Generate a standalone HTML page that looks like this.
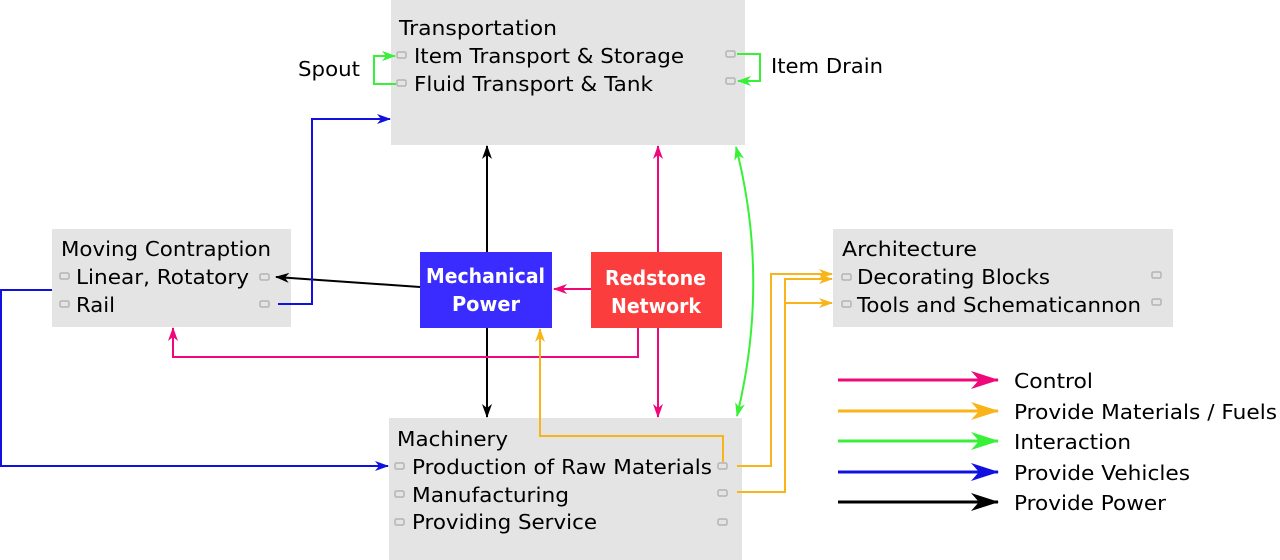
<!DOCTYPE html>
<html><head><meta charset="utf-8"><style>
html,body{margin:0;padding:0;background:#fff;}
svg{display:block;}
text{font-family:"DejaVu Sans","Liberation Sans",sans-serif;font-size:20px;fill:#000;}
.w{fill:#fff;font-weight:bold;}
.p{fill:#e4e4e4;stroke:#b4b4b4;stroke-width:1.5;}
</style></head><body>
<svg width="1280" height="560" viewBox="0 0 1280 560" xmlns="http://www.w3.org/2000/svg">
<defs>
<marker id="ak" markerWidth="14" markerHeight="10" refX="13" refY="5" orient="auto" markerUnits="userSpaceOnUse"><path d="M0,0 L14,5 L0,10 L4,5z" fill="#000"/></marker>
<marker id="ar" markerWidth="14" markerHeight="10" refX="13" refY="5" orient="auto" markerUnits="userSpaceOnUse"><path d="M0,0 L14,5 L0,10 L4,5z" fill="#f0087a"/></marker>
<marker id="ay" markerWidth="14" markerHeight="10" refX="13" refY="5" orient="auto" markerUnits="userSpaceOnUse"><path d="M0,0 L14,5 L0,10 L4,5z" fill="#f8b418"/></marker>
<marker id="ag" markerWidth="14" markerHeight="10" refX="13" refY="5" orient="auto" markerUnits="userSpaceOnUse"><path d="M0,0 L14,5 L0,10 L4,5z" fill="#38f038"/></marker>
<marker id="ags" markerWidth="14" markerHeight="10" refX="1" refY="5" orient="auto" markerUnits="userSpaceOnUse"><path d="M14,0 L0,5 L14,10 L10,5z" fill="#38f038"/></marker>
<marker id="ab" markerWidth="14" markerHeight="10" refX="13" refY="5" orient="auto" markerUnits="userSpaceOnUse"><path d="M0,0 L14,5 L0,10 L4,5z" fill="#1010e0"/></marker>
<marker id="L" markerWidth="28" markerHeight="18" refX="27" refY="9" orient="auto" markerUnits="userSpaceOnUse"><path d="M0,0 L28,9 L0,18 L8,9z" fill="context-stroke"/></marker>
</defs>

<!-- boxes -->
<rect x="391" y="0" width="354" height="145" fill="#e4e4e4"/>
<rect x="52" y="229" width="239" height="98" fill="#e4e4e4"/>
<rect x="833" y="229" width="340" height="98" fill="#e4e4e4"/>
<rect x="389" y="418" width="353" height="142" fill="#e4e4e4"/>
<rect x="420" y="252" width="132" height="76" fill="#3a2cff"/>
<rect x="591" y="252" width="131" height="76" fill="#fc3d3d"/>

<!-- ports -->
<g>
<rect class="p" x="397" y="52" width="9" height="6" rx="1.5"/>
<rect class="p" x="397" y="80" width="9" height="6" rx="1.5"/>
<rect class="p" x="726" y="51" width="9" height="6" rx="1.5"/>
<rect class="p" x="726" y="78" width="9" height="6" rx="1.5"/>
<rect class="p" x="60" y="273" width="9" height="6" rx="1.5"/>
<rect class="p" x="60" y="301" width="9" height="6" rx="1.5"/>
<rect class="p" x="260" y="274" width="9" height="6" rx="1.5"/>
<rect class="p" x="260" y="301" width="9" height="6" rx="1.5"/>
<rect class="p" x="842" y="274" width="9" height="6" rx="1.5"/>
<rect class="p" x="842" y="301" width="9" height="6" rx="1.5"/>
<rect class="p" x="1152" y="272" width="9" height="6" rx="1.5"/>
<rect class="p" x="1152" y="299" width="9" height="6" rx="1.5"/>
<rect class="p" x="395" y="463" width="9" height="6" rx="1.5"/>
<rect class="p" x="395" y="491" width="9" height="6" rx="1.5"/>
<rect class="p" x="395" y="519" width="9" height="6" rx="1.5"/>
<rect class="p" x="718" y="463" width="9" height="6" rx="1.5"/>
<rect class="p" x="718" y="490" width="9" height="6" rx="1.5"/>
<rect class="p" x="718" y="519" width="9" height="6" rx="1.5"/>
</g>

<!-- text -->
<text x="399" y="35" textLength="158" lengthAdjust="spacingAndGlyphs">Transportation</text>
<text x="414" y="63" textLength="270" lengthAdjust="spacingAndGlyphs">Item Transport &amp; Storage</text>
<text x="414" y="91" textLength="239" lengthAdjust="spacingAndGlyphs">Fluid Transport &amp; Tank</text>
<text x="298" y="76" textLength="62" lengthAdjust="spacingAndGlyphs">Spout</text>
<text x="771" y="73" textLength="112" lengthAdjust="spacingAndGlyphs">Item Drain</text>
<text x="61" y="256" textLength="210" lengthAdjust="spacingAndGlyphs">Moving Contraption</text>
<text x="76" y="284" textLength="173" lengthAdjust="spacingAndGlyphs">Linear, Rotatory</text>
<text x="76" y="312" textLength="39" lengthAdjust="spacingAndGlyphs">Rail</text>
<text class="w" x="426" y="283" textLength="119" lengthAdjust="spacingAndGlyphs">Mechanical</text>
<text class="w" x="452" y="311" textLength="68" lengthAdjust="spacingAndGlyphs">Power</text>
<text class="w" x="605" y="285" textLength="101" lengthAdjust="spacingAndGlyphs">Redstone</text>
<text class="w" x="611" y="313" textLength="90" lengthAdjust="spacingAndGlyphs">Network</text>
<text x="842" y="256" textLength="135" lengthAdjust="spacingAndGlyphs">Architecture</text>
<text x="857" y="284" textLength="193" lengthAdjust="spacingAndGlyphs">Decorating Blocks</text>
<text x="857" y="312" textLength="284" lengthAdjust="spacingAndGlyphs">Tools and Schematicannon</text>
<text x="397" y="446" textLength="111" lengthAdjust="spacingAndGlyphs">Machinery</text>
<text x="412" y="474" textLength="300" lengthAdjust="spacingAndGlyphs">Production of Raw Materials</text>
<text x="412" y="502" textLength="157" lengthAdjust="spacingAndGlyphs">Manufacturing</text>
<text x="412" y="529" textLength="185" lengthAdjust="spacingAndGlyphs">Providing Service</text>

<!-- connectors -->
<g fill="none" stroke-width="2">
<path d="M487,252 V146" stroke="#000" marker-end="url(#ak)"/>
<path d="M420,287 L276,277" stroke="#000" marker-end="url(#ak)"/>
<path d="M487,328 V417" stroke="#000" marker-end="url(#ak)"/>
<path d="M658,252 V146" stroke="#f0087a" marker-end="url(#ar)"/>
<path d="M591,289 H554" stroke="#f0087a" marker-end="url(#ar)"/>
<path d="M638,328 V357 H173 V328" stroke="#f0087a" marker-end="url(#ar)"/>
<path d="M658,328 V417" stroke="#f0087a" marker-end="url(#ar)"/>
<path d="M736,147 Q770,280 737,416" stroke="#38f038" marker-start="url(#ags)" marker-end="url(#ag)"/>
<path d="M396,84 H374 V56 H395" stroke="#38f038" marker-end="url(#ag)"/>
<path d="M737,54 H760 V81 H738" stroke="#38f038" marker-end="url(#ag)"/>
<path d="M278,304 H312 V119 H390" stroke="#1010e0" marker-end="url(#ab)"/>
<path d="M52,290 H1 V466 H388" stroke="#1010e0" marker-end="url(#ab)"/>
<path d="M723,462 V436 H540 V329" stroke="#f8b418" marker-end="url(#ay)"/>
<path d="M737,466 H771 V274 H832" stroke="#f8b418" marker-end="url(#ay)"/>
<path d="M737,492 H785 V279 H832" stroke="#f8b418" marker-end="url(#ay)"/>
<path d="M785,303 H832" stroke="#f8b418" marker-end="url(#ay)"/>
</g>

<!-- legend -->
<g fill="none" stroke-width="3">
<path d="M838,380 H998" stroke="#f0087a" marker-end="url(#L)"/>
<path d="M838,411 H998" stroke="#f8b418" marker-end="url(#L)"/>
<path d="M838,441 H998" stroke="#38f038" marker-end="url(#L)"/>
<path d="M838,472 H998" stroke="#1010e0" marker-end="url(#L)"/>
<path d="M838,502 H998" stroke="#000" marker-end="url(#L)"/>
</g>
<text x="1014" y="388" textLength="79" lengthAdjust="spacingAndGlyphs">Control</text>
<text x="1014" y="419" textLength="263" lengthAdjust="spacingAndGlyphs">Provide Materials / Fuels</text>
<text x="1014" y="449" textLength="117" lengthAdjust="spacingAndGlyphs">Interaction</text>
<text x="1014" y="480" textLength="176" lengthAdjust="spacingAndGlyphs">Provide Vehicles</text>
<text x="1014" y="510" textLength="152" lengthAdjust="spacingAndGlyphs">Provide Power</text>
</svg>
</body></html>
